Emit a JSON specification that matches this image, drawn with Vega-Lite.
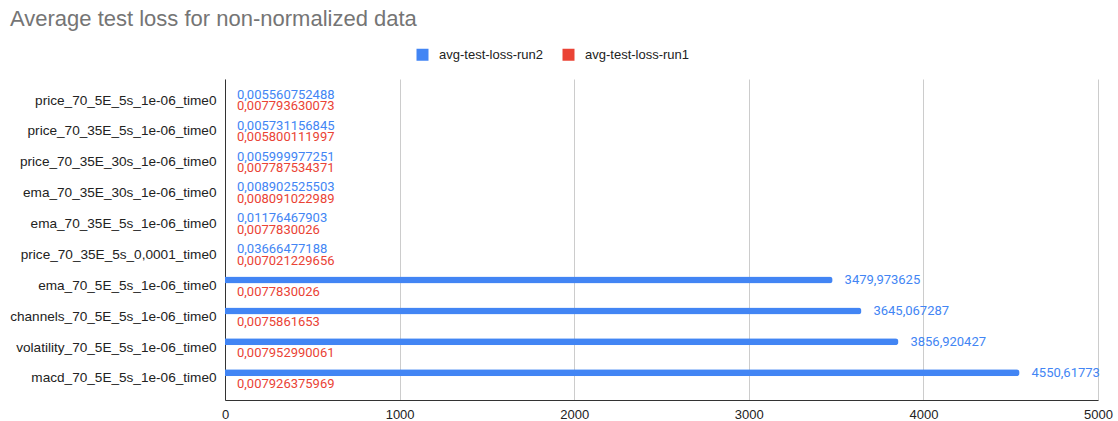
{
  "$schema": "https://vega.github.io/schema/vega-lite/v6.json",
  "autosize": {"type": "none"},
  "width": 873,
  "height": 321,
  "padding": {"left": 225, "top": 79, "right": 20, "bottom": 21},
  "background": "#ffffff",
  "title": {
    "text": "Average test loss for non-normalized data",
    "anchor": "start",
    "frame": "group",
    "dx": -215,
    "font": "Liberation Sans",
    "fontSize": 22,
    "fontWeight": "normal",
    "color": "#757575",
    "offset": 17
  },
  "data": {
    "values": [
      {"run": "price_70_5E_5s_1e-06_time0", "series": "avg-test-loss-run2", "loss": 0.005560752488},
      {"run": "price_70_5E_5s_1e-06_time0", "series": "avg-test-loss-run1", "loss": 0.007793630073},
      {"run": "price_70_35E_5s_1e-06_time0", "series": "avg-test-loss-run2", "loss": 0.005731156845},
      {"run": "price_70_35E_5s_1e-06_time0", "series": "avg-test-loss-run1", "loss": 0.005800111997},
      {"run": "price_70_35E_30s_1e-06_time0", "series": "avg-test-loss-run2", "loss": 0.005999977251},
      {"run": "price_70_35E_30s_1e-06_time0", "series": "avg-test-loss-run1", "loss": 0.007787534371},
      {"run": "ema_70_35E_30s_1e-06_time0", "series": "avg-test-loss-run2", "loss": 0.008902525503},
      {"run": "ema_70_35E_30s_1e-06_time0", "series": "avg-test-loss-run1", "loss": 0.008091022989},
      {"run": "ema_70_35E_5s_1e-06_time0", "series": "avg-test-loss-run2", "loss": 0.01176467903},
      {"run": "ema_70_35E_5s_1e-06_time0", "series": "avg-test-loss-run1", "loss": 0.0077830026},
      {"run": "price_70_35E_5s_0,0001_time0", "series": "avg-test-loss-run2", "loss": 0.03666477188},
      {"run": "price_70_35E_5s_0,0001_time0", "series": "avg-test-loss-run1", "loss": 0.007021229656},
      {"run": "ema_70_5E_5s_1e-06_time0", "series": "avg-test-loss-run2", "loss": 3479.973625},
      {"run": "ema_70_5E_5s_1e-06_time0", "series": "avg-test-loss-run1", "loss": 0.0077830026},
      {"run": "channels_70_5E_5s_1e-06_time0", "series": "avg-test-loss-run2", "loss": 3645.067287},
      {"run": "channels_70_5E_5s_1e-06_time0", "series": "avg-test-loss-run1", "loss": 0.0075861653},
      {"run": "volatility_70_5E_5s_1e-06_time0", "series": "avg-test-loss-run2", "loss": 3856.920427},
      {"run": "volatility_70_5E_5s_1e-06_time0", "series": "avg-test-loss-run1", "loss": 0.007952990061},
      {"run": "macd_70_5E_5s_1e-06_time0", "series": "avg-test-loss-run2", "loss": 4550.61773},
      {"run": "macd_70_5E_5s_1e-06_time0", "series": "avg-test-loss-run1", "loss": 0.007926375969}
    ]
  },
  "encoding": {
    "y": {
      "field": "run",
      "type": "nominal",
      "sort": null,
      "scale": {"paddingInner": 0, "paddingOuter": 0.2},
      "axis": {
        "title": null,
        "ticks": false,
        "domain": true,
        "domainColor": "#333333",
        "domainWidth": 1,
        "labelFont": "Liberation Sans",
        "labelFontSize": 13.6,
        "labelColor": "#222222",
        "labelPadding": 9,
        "labelLimit": 0
      }
    },
    "x": {
      "field": "loss",
      "type": "quantitative",
      "scale": {"domain": [0, 5000], "nice": false},
      "axis": {
        "title": null,
        "values": [0, 1000, 2000, 3000, 4000, 5000],
        "format": "d",
        "grid": true,
        "gridColor": "#cccccc",
        "ticks": false,
        "domainColor": "#333333",
        "labelFont": "Liberation Sans",
        "labelFontSize": 13,
        "labelColor": "#222222",
        "labelPadding": 8,
        "labelFlush": false
      }
    },
    "yOffset": {
      "field": "series",
      "type": "nominal",
      "sort": ["avg-test-loss-run2", "avg-test-loss-run1"],
      "scale": {"paddingInner": 0.39, "paddingOuter": 0.54}
    },
    "color": {
      "field": "series",
      "type": "nominal",
      "sort": ["avg-test-loss-run2", "avg-test-loss-run1"],
      "scale": {"domain": ["avg-test-loss-run2", "avg-test-loss-run1"], "range": ["#4285f4", "#ea4335"]},
      "legend": {
        "title": null,
        "orient": "none",
        "legendX": 191,
        "legendY": -31,
        "direction": "horizontal",
        "padding": 0,
        "symbolType": "square",
        "symbolSize": 144,
        "symbolStrokeWidth": 0,
        "symbolOpacity": 1,
        "labelFont": "Liberation Sans",
        "labelFontSize": 13,
        "labelColor": "#222222",
        "labelOffset": 10,
        "columnPadding": 18
      }
    }
  },
  "layer": [
    {"mark": {"type": "bar", "cornerRadiusEnd": 3}},
    {
      "mark": {"type": "text", "align": "left", "baseline": "middle", "dx": 12, "font": "Roboto", "fontSize": 13},
      "encoding": {"text": {"field": "loss", "type": "quantitative", "format": ".10~r"}}
    }
  ],
  "config": {
    "view": {"stroke": null},
    "locale": {"number": {"decimal": ",", "thousands": ".", "grouping": [3], "currency": ["", ""]}}
  }
}
